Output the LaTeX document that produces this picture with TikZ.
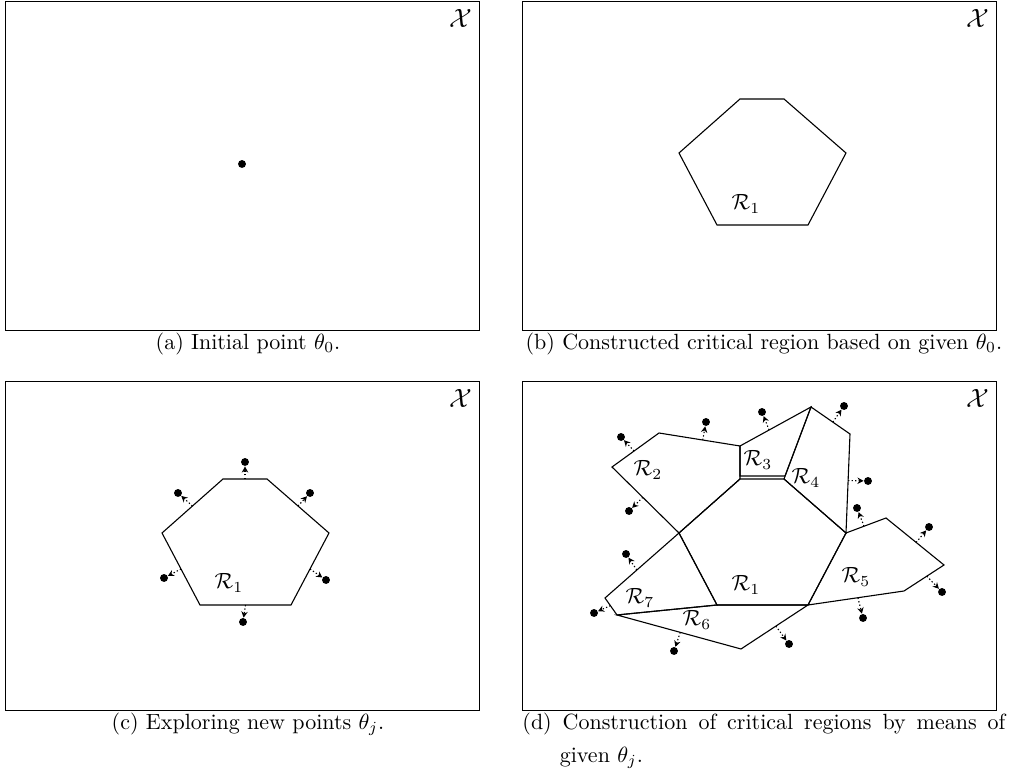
\documentclass[tikz,border=0pt]{standalone}
\usepackage{tikz}
\usetikzlibrary{arrows.meta,positioning,calc}

\begin{document}
\begin{tikzpicture}[
  x=0.4545pt, y=-0.4545pt,
  frame/.style={draw,line width=0.5pt,minimum width=215.4pt,minimum height=149.5pt,inner sep=0pt,anchor=north west},
  region/.style={line width=0.5pt},
  theta/.style={circle,fill,inner sep=0pt,minimum size=3.6pt},
  explore/.style={dash pattern=on 0.6pt off 1pt,line width=0.5pt,-{Stealth[length=2.8pt,width=2.9pt]}},
  xlab/.style={anchor=north east,inner sep=3.5pt,font=\large},
  captext/.style={inner sep=0pt}
]
\useasboundingbox (0,0) rectangle (1013,769);

% (a) initial point
\begin{scope}[shift={(5,1)}]
\node[frame] (fa) at (0,0) {};
\node[xlab] (xa) at (fa.north east) {$\mathcal{X}$};
\node[theta] (t0) at (237,163) {};
\end{scope}
\node[captext,below=0.5pt of fa,xshift=2.5pt] (capa) {(a)\ Initial point $\theta_0$.};

% (b) first critical region
\begin{scope}[shift={(522,1)}]
\node[frame] (fb) at (0,0) {};
\node[xlab] (xb) at (fb.north east) {$\mathcal{X}$};
\coordinate (b1) at (157,152);
\coordinate (b2) at (218,98);
\coordinate (b3) at (262,98);
\coordinate (b4) at (324,152);
\coordinate (b5) at (286,224);
\coordinate (b6) at (195,224);
\draw[region] (b1) -- (b2) -- (b3) -- (b4) -- (b5) -- (b6) -- cycle;
\node (rb1) at (224,203) {$\mathcal{R}_1$};
\end{scope}
\node[captext,below=0.5pt of fb,xshift=2pt] (capb) {(b)\ Constructed critical region based on given $\theta_0$.};

% (c) exploring
\begin{scope}[shift={(5,381)}]
\node[frame] (fc) at (0,0) {};
\node[xlab] (xc) at (fc.north east) {$\mathcal{X}$};
\coordinate (c1) at (157,152);
\coordinate (c2) at (218,98);
\coordinate (c3) at (262,98);
\coordinate (c4) at (324,152);
\coordinate (c5) at (286,224);
\coordinate (c6) at (195,224);
\draw[region] (c1) -- (c2) -- (c3) -- (c4) -- (c5) -- (c6) -- cycle;
\node (rc1) at (224,202) {$\mathcal{R}_1$};

\node[theta] (tc1) at (240,81) {};
\node[theta] (tc2) at (173,112) {};
\node[theta] (tc3) at (305,112) {};
\node[theta] (tc4) at (159,197) {};
\node[theta] (tc5) at (321,199) {};
\node[theta] (tc6) at (238,241) {};
\coordinate (sc1) at ($(c2)!0.5!(c3)$);
\coordinate (sc2) at ($(c1)!0.5!(c2)$);
\coordinate (sc3) at ($(c3)!0.5!(c4)$);
\coordinate (sc4) at ($(c6)!0.5!(c1)$);
\coordinate (sc5) at ($(c4)!0.5!(c5)$);
\coordinate (sc6) at ($(c5)!0.5!(c6)$);
\draw[explore] (sc1) -- (tc1);
\draw[explore] (sc2) -- (tc2);
\draw[explore] (sc3) -- (tc3);
\draw[explore] (sc4) -- (tc4);
\draw[explore] (sc5) -- (tc5);
\draw[explore] (sc6) -- (tc6);
\end{scope}
\node[captext,below=0.5pt of fc,xshift=2.5pt] (capc) {(c)\ Exploring new points $\theta_j$.};

% (d) new critical regions
\begin{scope}[shift={(522,381)}]
\node[frame] (fd) at (0,0) {};
\node[xlab] (xd) at (fd.north east) {$\mathcal{X}$};
\coordinate (d1) at (157,152);
\coordinate (d2) at (218,98);
\coordinate (d3) at (262,98);
\coordinate (d4) at (324,152);
\coordinate (d5) at (286,224);
\coordinate (d6) at (195,224);
\coordinate (a1) at (90,86);
\coordinate (a2) at (137,52);
\coordinate (q1) at (218,65);
\coordinate (p1) at (289,26);
\coordinate (p2) at (328,53);
\coordinate (e1) at (218,95);
\coordinate (e2) at (263,95);
\coordinate (f1) at (364,137);
\coordinate (f2) at (422,184);
\coordinate (f3) at (382,210);
\coordinate (g1) at (219,268);
\coordinate (k1) at (83,217);
\coordinate (k2) at (95,234);

\draw[region] (d1) -- (d2) -- (d3) -- (d4) -- (d5) -- (d6) -- cycle;
\draw[region] (a1) -- (a2) -- (q1) -- (d2) -- (d1) -- cycle;
\draw[region] (e1) -- (q1) -- (p1) -- (e2) -- cycle;
\draw[region] (d3) -- (p1) -- (p2) -- (d4) -- cycle;
\draw[region] (d4) -- (f1) -- (f2) -- (f3) -- (d5) -- cycle;
\draw[region] (k2) -- (d6) -- (d5) -- (g1) -- cycle;
\draw[region] (d1) -- (k1) -- (k2) -- (d6) -- cycle;

\node (rd1) at (224,204) {$\mathcal{R}_1$};
\node (rd2) at (126,89) {$\mathcal{R}_2$};
\node (rd3) at (236,79) {$\mathcal{R}_3$};
\node (rd4) at (284,97) {$\mathcal{R}_4$};
\node (rd5) at (334,196) {$\mathcal{R}_5$};
\node (rd6) at (175,239) {$\mathcal{R}_6$};
\node (rd7) at (118,217) {$\mathcal{R}_7$};

\node[theta] (td1) at (99,56) {};
\node[theta] (td2) at (184,41) {};
\node[theta] (td3) at (240,31) {};
\node[theta] (td4) at (322,25) {};
\node[theta] (td5) at (346,100) {};
\node[theta] (td6) at (335,127) {};
\node[theta] (td7) at (407,146) {};
\node[theta] (td8) at (420,211) {};
\node[theta] (td9) at (341,237) {};
\node[theta] (td10) at (267,263) {};
\node[theta] (td11) at (152,270) {};
\node[theta] (td12) at (72,232) {};
\node[theta] (td13) at (104,173) {};
\node[theta] (td14) at (107,130) {};
\coordinate (sd1) at ($(a1)!0.47!(a2)$);
\coordinate (sd2) at ($(a2)!0.54!(q1)$);
\coordinate (sd3) at ($(q1)!0.41!(p1)$);
\coordinate (sd4) at ($(p1)!0.56!(p2)$);
\coordinate (sd5) at ($(p2)!0.47!(d4)$);
\coordinate (sd6) at ($(d4)!0.45!(f1)$);
\coordinate (sd7) at ($(f1)!0.52!(f2)$);
\coordinate (sd8) at ($(f2)!0.43!(f3)$);
\coordinate (sd9) at ($(f3)!0.48!(d5)$);
\coordinate (sd10) at ($(d5)!0.48!(g1)$);
\coordinate (sd11) at ($(k2)!0.51!(g1)$);
\coordinate (sd12) at ($(k1)!0.45!(k2)$);
\coordinate (sd13) at ($(d1)!0.57!(k1)$);
\coordinate (sd14) at ($(a1)!0.46!(d1)$);
\draw[explore] (sd1) -- (td1);
\draw[explore] (sd2) -- (td2);
\draw[explore] (sd3) -- (td3);
\draw[explore] (sd4) -- (td4);
\draw[explore] (sd5) -- (td5);
\draw[explore] (sd6) -- (td6);
\draw[explore] (sd7) -- (td7);
\draw[explore] (sd8) -- (td8);
\draw[explore] (sd9) -- (td9);
\draw[explore] (sd10) -- (td10);
\draw[explore] (sd11) -- (td11);
\draw[explore] (sd12) -- (td12);
\draw[explore] (sd13) -- (td13);
\draw[explore] (sd14) -- (td14);
\end{scope}
\node[captext,anchor=north west,text width=219.5pt,align=justify,font=\linespread{1.25}\selectfont]
  (capd) at ([yshift=-0.5pt]fd.south west)
  {\hangindent=17pt\hangafter=1 (d)\ Construction of critical regions by means of\linebreak given $\theta_j$.\par};
\end{tikzpicture}
\end{document}
